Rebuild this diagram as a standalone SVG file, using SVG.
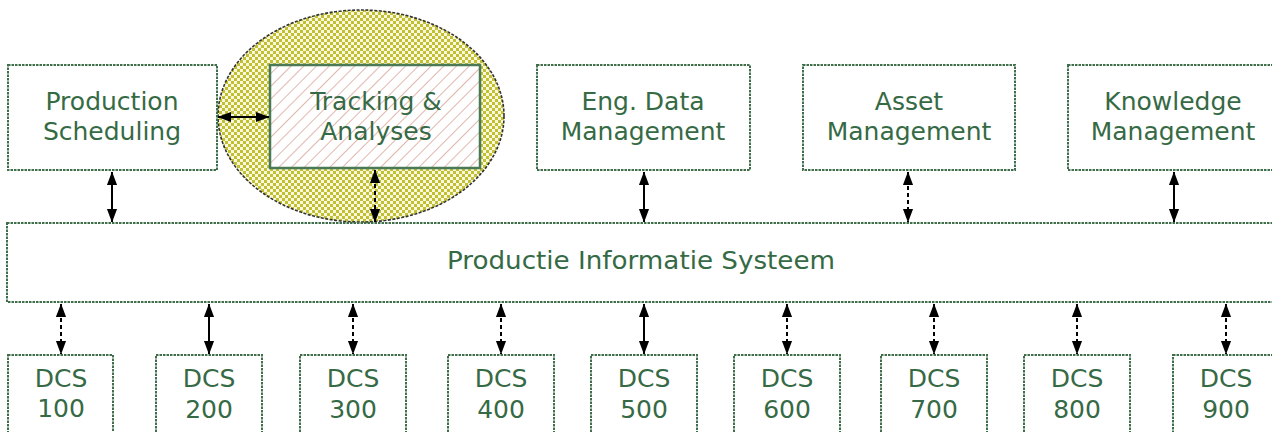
<svg xmlns="http://www.w3.org/2000/svg" width="1272" height="432" viewBox="0 0 1272 432">
<defs>
<pattern id="checker" width="6" height="6" patternUnits="userSpaceOnUse">
<rect width="6" height="6" fill="#f8f8e0"/>
<rect x="0" y="0" width="3" height="3" fill="#c2c030"/>
<rect x="3" y="3" width="3" height="3" fill="#c2c030"/>
</pattern>
<pattern id="hatch" width="9" height="9" patternUnits="userSpaceOnUse" patternTransform="rotate(45)">
<rect width="9" height="9" fill="#ffffff"/>
<line x1="0" y1="0" x2="0" y2="9" stroke="#d9a698" stroke-width="1.6"/>
</pattern>
<marker id="ah" viewBox="0 0 12 10" refX="11.5" refY="5" markerWidth="7" markerHeight="6" orient="auto-start-reverse" markerUnits="strokeWidth">
<path d="M0,0.5 L12,5 L0,9.5 Z" fill="#000"/>
</marker>
</defs>
<style>
.box{fill:#ffffff;stroke:#3e6e4a;stroke-width:2;stroke-dasharray:2.5 1}
.lbl{font-family:"DejaVu Sans","Verdana",sans-serif;font-size:25px;fill:#356a45;text-anchor:middle}
.dcs{font-family:"DejaVu Sans","Verdana",sans-serif;font-size:25px;fill:#356a45;text-anchor:middle}
.con{stroke:#000;stroke-width:2;fill:none;marker-start:url(#ah);marker-end:url(#ah)}
.dash{stroke-dasharray:4 3}
</style>
<rect width="1272" height="432" fill="#ffffff"/>

<g id="ellipse-highlight">
<ellipse cx="361" cy="116" rx="143" ry="106" fill="url(#checker)" stroke="#333" stroke-width="1.6" stroke-dasharray="3 1.5"/>
</g>

<g id="production-scheduling">
<rect class="box" x="8" y="65" width="209" height="105"/>
<text class="lbl" x="112" y="110">Production</text>
<text class="lbl" x="112" y="140">Scheduling</text>
</g>

<g id="tracking-analyses">
<rect x="270" y="65" width="210" height="103" fill="url(#hatch)" stroke="#4a7a55" stroke-width="2.5"/>
<text class="lbl" x="376" y="110">Tracking &amp;</text>
<text class="lbl" x="376" y="140">Analyses</text>
</g>

<g id="eng-data-management">
<rect class="box" x="537" y="65" width="213" height="105"/>
<text class="lbl" x="643" y="110">Eng. Data</text>
<text class="lbl" x="643" y="140">Management</text>
</g>

<g id="asset-management">
<rect class="box" x="803" y="65" width="212" height="105"/>
<text class="lbl" x="909" y="110">Asset</text>
<text class="lbl" x="909" y="140">Management</text>
</g>

<g id="knowledge-management">
<rect class="box" x="1068" y="65" width="220" height="105"/>
<text class="lbl" x="1173" y="110">Knowledge</text>
<text class="lbl" x="1173" y="140">Management</text>
</g>

<g id="productie-informatie-systeem">
<rect class="box" x="7" y="223" width="1280" height="79"/>
<text class="lbl" x="641" y="269" font-size="24" textLength="388" lengthAdjust="spacingAndGlyphs">Productie Informatie Systeem</text>
</g>

<g id="dcs-100">
<rect class="box" x="8" y="355" width="105" height="90"/>
<text class="dcs" x="61" y="387" font-size="22">DCS</text>
<text class="dcs" x="61" y="417" font-size="22">100</text>
</g>
<g id="dcs-200">
<rect class="box" x="156" y="355" width="106" height="90"/>
<text class="dcs" x="209" y="387">DCS</text>
<text class="dcs" x="209" y="418">200</text>
</g>
<g id="dcs-300">
<rect class="box" x="300" y="355" width="106" height="90"/>
<text class="dcs" x="353" y="387">DCS</text>
<text class="dcs" x="353" y="418">300</text>
</g>
<g id="dcs-400">
<rect class="box" x="448" y="355" width="106" height="90"/>
<text class="dcs" x="501" y="387">DCS</text>
<text class="dcs" x="501" y="418">400</text>
</g>
<g id="dcs-500">
<rect class="box" x="591" y="355" width="106" height="90"/>
<text class="dcs" x="644" y="387">DCS</text>
<text class="dcs" x="644" y="418">500</text>
</g>
<g id="dcs-600">
<rect class="box" x="734" y="355" width="106" height="90"/>
<text class="dcs" x="787" y="387">DCS</text>
<text class="dcs" x="787" y="418">600</text>
</g>
<g id="dcs-700">
<rect class="box" x="881" y="355" width="106" height="90"/>
<text class="dcs" x="934" y="387">DCS</text>
<text class="dcs" x="934" y="418">700</text>
</g>
<g id="dcs-800">
<rect class="box" x="1024" y="355" width="106" height="90"/>
<text class="dcs" x="1077" y="387">DCS</text>
<text class="dcs" x="1077" y="418">800</text>
</g>
<g id="dcs-900">
<rect class="box" x="1173" y="355" width="110" height="90"/>
<text class="dcs" x="1226" y="387">DCS</text>
<text class="dcs" x="1226" y="418">900</text>
</g>

<g id="connectors">
<line class="con" x1="218" y1="117" x2="269" y2="117"/>
<line class="con" x1="112" y1="172" x2="112" y2="222"/>
<line class="con dash" x1="375" y1="170" x2="375" y2="222"/>
<line class="con" x1="644" y1="172" x2="644" y2="222"/>
<line class="con dash" x1="908" y1="172" x2="908" y2="222"/>
<line class="con" x1="1174" y1="172" x2="1174" y2="222"/>
<line class="con dash" x1="61" y1="304" x2="61" y2="354"/>
<line class="con" x1="209" y1="304" x2="209" y2="354"/>
<line class="con dash" x1="353" y1="304" x2="353" y2="354"/>
<line class="con dash" x1="501" y1="304" x2="501" y2="354"/>
<line class="con" x1="644" y1="304" x2="644" y2="354"/>
<line class="con dash" x1="787" y1="304" x2="787" y2="354"/>
<line class="con dash" x1="934" y1="304" x2="934" y2="354"/>
<line class="con dash" x1="1077" y1="304" x2="1077" y2="354"/>
<line class="con dash" x1="1226" y1="304" x2="1226" y2="354"/>
</g>
</svg>
